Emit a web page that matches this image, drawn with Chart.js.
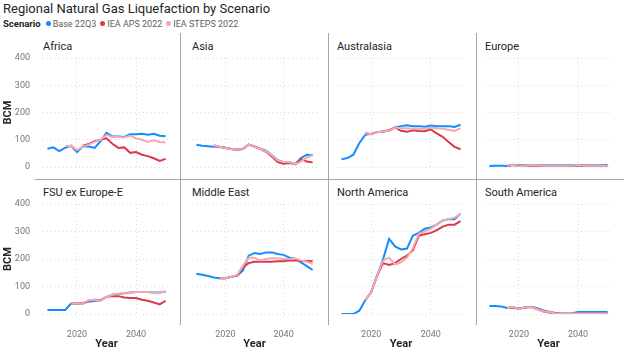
<!DOCTYPE html>
<html lang="en">
<head>
<meta charset="UTF-8">
<title>Regional Natural Gas Liquefaction by Scenario</title>
<script src="https://cdn.jsdelivr.net/npm/chart.js"></script>
<style>
    body { margin: 0; width: 624px; height: 351px; position: relative; overflow: hidden; background: #fff; font-family: Roboto, sans-serif; color: #252423; }
    #titulo { position: absolute; left: 3px; top: 1px; font-size: 13px; white-space: nowrap; }
    #leyenda { position: absolute; left: 3px; top: 18px; font-size: 9px; color: #605E5C; white-space: nowrap; display: flex; align-items: center; }
    #leyenda b { color: #252423; margin-right: 5px; font-size: 9.5px; }
    .item { display: flex; align-items: center; margin-right: 4px; }
    .punto { width: 5px; height: 5px; border-radius: 50%; margin-right: 2px; }
    .panel { position: absolute; font-size: 11px; white-space: nowrap; }
    .linea { position: absolute; background: #A6A6A6; }
</style>
</head>
<body>
<div id="titulo">Regional Natural Gas Liquefaction by Scenario</div>
<div id="leyenda"><b>Scenario</b></div>

<script>
    // datos (BCM), cada 2 años
    const years = [2010, 2012, 2014, 2016, 2018, 2020, 2022, 2024, 2026, 2028, 2030, 2032, 2034, 2036, 2038, 2040, 2042, 2044, 2046, 2048, 2050];
    const regions = ['Africa', 'Asia', 'Australasia', 'Europe', 'FSU ex Europe-E', 'Middle East', 'North America', 'South America'];
    const scenarios = ['Base 22Q3', 'IEA APS 2022', 'IEA STEPS 2022'];
    const colores = ['#118DFF', '#D9394A', '#F2AAB0'];
    const yTicks = [0, 100, 200, 300, 400];
    const xTicks = [2020, 2040];

    const africaBase = [67, 72, 58, 70, 78, 55, 75, 75, 70, 95, 125, 112, 112, 110, 120, 120, 122, 118, 122, 115, 113];
    const africaAps = [null, null, null, null, null, null, 78, 85, 95, 100, 105, 85, 70, 72, 52, 55, 45, 40, 32, 22, 30];
    const africaSteps = [null, null, null, 77, 78, 62, 75, 82, 92, 100, 118, 110, 110, 108, 115, 105, 100, 92, 98, 92, 90];

    const asiaBase = [82, 78, 76, 74, 73, 71, 66, 63, 67, 82, 75, 67, 60, 43, 25, 18, 18, 10, 33, 45, 43];
    const asiaAps = [null, null, null, 79, 74, 70, 66, 63, 66, 82, 75, 66, 56, 38, 18, 12, 15, 10, 30, 20, 17];
    const asiaSteps = [null, null, null, 79, 74, 70, 66, 63, 66, 82, 75, 66, 58, 42, 24, 18, 18, 10, 20, 35, 43];

    const australasiaBase = [28, 33, 45, 88, 118, 122, 128, 130, 133, 145, 150, 153, 150, 150, 148, 152, 150, 150, 150, 147, 155];
    const australasiaAps = [null, null, null, null, 125, 120, 128, 130, 135, 145, 133, 129, 135, 132, 131, 138, 123, 111, 92, 74, 65];
    const australasiaSteps = [null, null, null, null, 125, 120, 128, 130, 133, 145, 142, 142, 140, 140, 140, 145, 142, 140, 137, 132, 142];

    const europeBase = [4, 5, 5, 4, 6, 6, 6, 6, 6, 6, 6, 6, 6, 6, 6, 6, 6, 6, 6, 6, 7];
    const europeAps = [null, null, null, 5, 8, 2, 5, 5, 5, 4, 4, 3, 1, 4, 1, 3, 2, 2, 2, 2, 2];
    const europeSteps = [null, null, null, 5, 8, 2, 5, 6, 6, 5, 5, 5, 5, 5, 5, 6, 5, 5, 5, 5, 4];

    const fsuBase = [15, 15, 15, 15, 38, 38, 40, 45, 47, 50, 62, 70, 73, 75, 78, 80, 80, 80, 78, 78, 82];
    const fsuAps = [null, null, null, null, 38, 38, 38, 48, 52, 50, 62, 65, 65, 60, 58, 58, 52, 48, 42, 35, 48];
    const fsuSteps = [null, null, null, null, 38, 38, 38, 50, 52, 48, 62, 70, 74, 76, 78, 80, 80, 80, 78, 78, 82];

    const middleEastBase = [146, 143, 138, 133, 130, 130, 135, 140, 158, 212, 222, 218, 224, 224, 218, 215, 205, 200, 188, 174, 160];
    const middleEastAps = [null, null, null, null, 130, 130, 135, 140, 170, 185, 190, 190, 190, 190, 192, 192, 195, 195, 193, 193, 192];
    const middleEastSteps = [null, null, null, null, 130, 130, 135, 142, 175, 205, 205, 195, 200, 203, 203, 200, 200, 202, 195, 190, 182];

    const northAmericaBase = [0, 0, 0, 12, 50, 80, 140, 200, 273, 246, 235, 238, 285, 295, 310, 315, 325, 340, 345, 345, 365];
    const northAmericaAps = [null, null, null, null, 50, 80, 140, 185, 178, 185, 200, 212, 232, 285, 290, 295, 305, 318, 325, 325, 338];
    const northAmericaSteps = [null, null, null, null, 50, 80, 140, 195, 205, 180, 188, 205, 240, 292, 300, 310, 325, 340, 345, 350, 365];

    const southAmericaBase = [29, 29, 27, 22, 22, 20, 24, 26, 22, 14, 9, 5, 3, 2, 3, 7, 7, 7, 7, 7, 7];
    const southAmericaAps = [null, null, null, 22, 25, 18, 24, 25, 18, 10, 6, 2, 1, 1, 1, 1, 1, 1, 1, 1, 1];
    const southAmericaSteps = [null, null, null, 22, 25, 18, 24, 25, 18, 10, 8, 3, 2, 1, 2, 2, 2, 2, 2, 2, 2];

    const series = [
        [africaBase, africaAps, africaSteps],
        [asiaBase, asiaAps, asiaSteps],
        [australasiaBase, australasiaAps, australasiaSteps],
        [europeBase, europeAps, europeSteps],
        [fsuBase, fsuAps, fsuSteps],
        [middleEastBase, middleEastAps, middleEastSteps],
        [northAmericaBase, northAmericaAps, northAmericaSteps],
        [southAmericaBase, southAmericaAps, southAmericaSteps]
    ];

    // leyenda
    const leyenda = document.getElementById('leyenda');
    scenarios.forEach((s, k) => {
        const it = document.createElement('span');
        it.className = 'item';
        it.innerHTML = `<span class="punto" style="background:${colores[k]}"></span>${s}`;
        leyenda.appendChild(it);
    });

    // separadores
    function linea(l, t, w, h) {
        const d = document.createElement('div');
        d.className = 'linea';
        d.style.cssText = `left:${l}px;top:${t}px;width:${w}px;height:${h}px`;
        document.body.appendChild(d);
    }
    linea(180, 33, 1, 292);
    linea(328, 33, 1, 292);
    linea(476, 33, 1, 292);
    linea(35, 179, 589, 1);

    const plotLeft = [43, 192, 337, 485];
    const plotRight = [170, 317, 465, 612];
    const gridColor = '#D9D9D9';
    const PAD = 8;

    regions.forEach((nombre, i) => {
        const col = i % 4, row = Math.floor(i / 4);

        const t = document.createElement('div');
        t.className = 'panel';
        t.textContent = nombre;
        t.style.left = plotLeft[col] + 'px';
        t.style.top = (row === 0 ? 40 : 186) + 'px';
        document.body.appendChild(t);

        // area de trazado: fila 0 -> 58..167, fila 1 -> 204..314
        const left = col === 0 ? 0 : plotLeft[col];
        const top = (row === 0 ? 58 : 204) - PAD;
        const w = plotRight[col] + 2 - left;
        const h = row === 0 ? (167 + PAD - top) : (351 - top);
        const cv = document.createElement('canvas');
        cv.width = w; cv.height = h;
        cv.style.cssText = `position:absolute;left:${left}px;top:${top}px;width:${w}px;height:${h}px`;
        document.body.appendChild(cv);

        new Chart(cv, {
            type: 'line',
            data: {
                datasets: series[i].map((arr, k) => ({
                    label: scenarios[k],
                    data: arr.map((v, j) => ({ x: years[j], y: v })),
                    borderColor: colores[k],
                    borderWidth: 2,
                    pointRadius: 0,
                    tension: 0,
                    order: 3 - k
                }))
            },
            options: {
                responsive: false,
                animation: false,
                devicePixelRatio: 1,
                layout: { padding: { top: PAD, right: 2, bottom: row === 0 ? PAD : 0, left: 0 } },
                plugins: { legend: { display: false }, tooltip: { enabled: false } },
                scales: {
                    x: {
                        type: 'linear',
                        min: 2008.5,
                        max: 2051.5,
                        afterBuildTicks: s => { s.ticks = xTicks.map(v => ({ value: v })); },
                        afterFit: s => { s.height = row === 0 ? 0 : 37; },
                        grid: { color: gridColor, drawTicks: true, tickLength: 12, tickColor: 'rgba(0,0,0,0)' },
                        border: { display: false, dash: [1, 3] },
                        ticks: { display: row === 1, padding: 3, color: '#777', font: { family: 'Roboto', size: 9 }, callback: v => String(v) },
                        title: { display: row === 1, text: 'Year', color: '#252423', padding: 0, font: { family: 'Roboto', size: 11, weight: 'bold' } }
                    },
                    y: {
                        min: 0,
                        max: 400,
                        afterBuildTicks: s => { s.ticks = yTicks.map(v => ({ value: v })); },
                        afterFit: s => { s.width = col === 0 ? 43 : 0; },
                        grid: { color: gridColor, drawTicks: true, tickLength: 13, tickColor: 'rgba(0,0,0,0)' },
                        border: { display: false, dash: [1, 3] },
                        ticks: { display: col === 0, padding: 0, color: '#777', font: { family: 'Roboto', size: 9 } },
                        title: { display: col === 0, text: 'BCM', color: '#252423', padding: { top: 2, bottom: 0 }, font: { family: 'Roboto', size: 11, weight: 'bold' } }
                    }
                }
            }
        });
    });
</script>
</body>
</html>
